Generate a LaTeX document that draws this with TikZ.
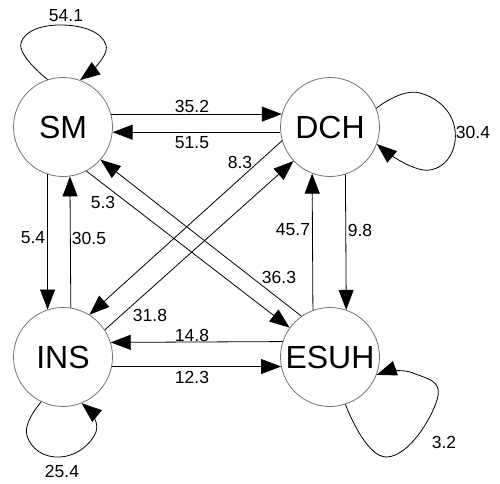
\documentclass[tikz,border=0pt]{standalone}
\usepackage{fontspec}
\setmainfont{Liberation Sans}
\usetikzlibrary{arrows.meta,calc}
\begin{document}
\begin{tikzpicture}[x=1pt,y=1pt,
  state/.style={circle,draw=black!55,line width=0.8pt,minimum size=99pt,inner sep=0pt,font=\fontsize{32}{36}\selectfont},
  arr/.style={-{Triangle[length=20pt,width=15pt]},line width=0.8pt,draw=black},
  lbl/.style={font=\fontsize{17.5}{20}\selectfont,inner sep=0pt}]
\useasboundingbox (0,0) rectangle (500,483);
\node[state] (SM) at (63,356) {SM};
\node[state] (DCH) at (330,356) {DCH};
\node[state] (INS) at (63,126) {INS};
\node[state] (ESUH) at (330,126) {ESUH};
% straight connectors
\draw[arr] (SM.15) -- (DCH.165);
\draw[arr] (DCH.186.6) -- (SM.-6.6);
\draw[arr] (SM.252) -- (INS.108);
\draw[arr] (INS.81.9) -- (SM.278.1);
\draw[arr] (DCH.288.9) -- (ESUH.71.1);
\draw[arr] (ESUH.110.5) -- (DCH.249.5);
\draw[arr] (INS.-11.3) -- (ESUH.191.3);
\draw[arr] (ESUH.162.7) -- (INS.17.3);
\draw[arr] (SM.-62.1) -- (ESUH.144.2);
\draw[arr] (ESUH.125.5) -- (SM.-41.9);
\draw[arr] (DCH.196.4) -- (INS.58.5);
\draw[arr] (INS.33.6) -- (DCH.223.4);
% loops
\draw[arr] plot[smooth,tension=0.85] coordinates {(SM.108) (21,440) (63,458) (106,438) (SM.70)};
\draw[arr] plot[smooth,tension=0.85] coordinates {(DCH.22) (420,390) (455,353) (430,313) (DCH.-20)};
\draw[arr] plot[smooth,tension=0.85] coordinates {(INS.244) (27,47) (60,26) (96,51) (INS.-68)};
\draw[arr] plot[smooth,tension=0.85] coordinates {(ESUH.-72) (387,26) (437,83) (413,110) (ESUH.-21)};
% labels
\node[lbl] (l1) at (66,467) {54.1};
\node[lbl] (l2) at (192,377) {35.2};
\node[lbl] (l3) at (192,340) {51.5};
\node[lbl] (l4) at (33,245) {5.4};
\node[lbl] (l5) at (89,245) {30.5};
\node[lbl] (l6) at (103,281) {5.3};
\node[lbl] (l7) at (240,321) {8.3};
\node[lbl] (l8) at (473,351) {30.4};
\node[lbl] (l9) at (293,253) {45.7};
\node[lbl] (l10) at (360,253) {9.8};
\node[lbl] (l11) at (150,168) {31.8};
\node[lbl] (l12) at (192,148) {14.8};
\node[lbl] (l13) at (192,106) {12.3};
\node[lbl] (l14) at (279,206) {36.3};
\node[lbl] (l15) at (62,12) {25.4};
\node[lbl] (l16) at (444,41) {3.2};
\end{tikzpicture}
\end{document}
